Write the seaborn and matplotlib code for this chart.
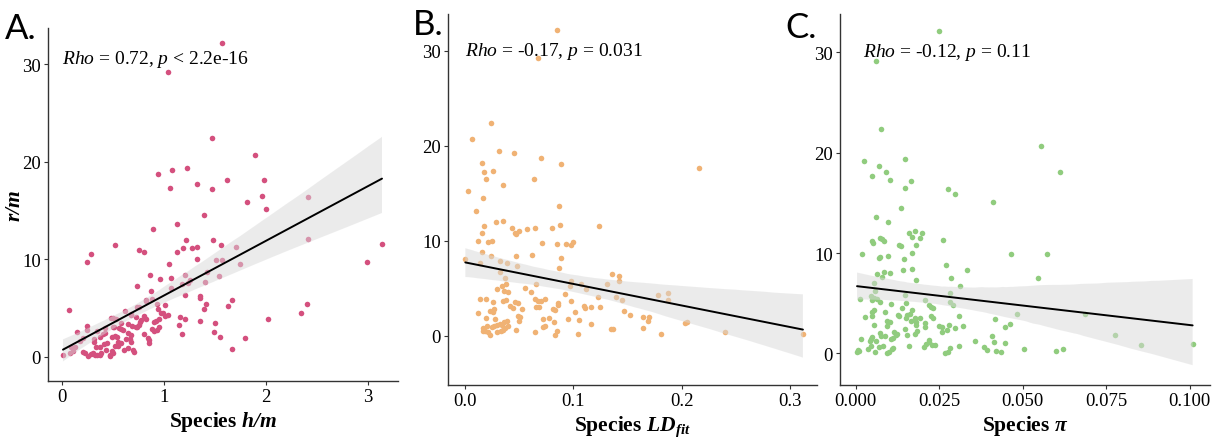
import numpy as np
import pandas as pd
import matplotlib
matplotlib.use("Agg")
import matplotlib.pyplot as plt
import seaborn as sns

# ---------------- data ----------------
# Panel A: Species h/m vs r/m
a_x = [1.575, 1.04, 1.47, 1.89, 0.944, 1.08, 1.23, 1.32, 1.47, 1.62, 1.06, 1.98, 1.96, 1.82, 2.0, 2.41, 1.39,
       1.13, 0.89, 0.52, 1.22, 1.48, 1.56, 1.28, 1.32, 1.19, 1.13, 1.71, 3.14, 2.41, 0.28, 0.25, 0.76, 0.80,
       1.32, 1.51, 1.57, 1.05, 1.75, 2.99, 0.86, 0.96, 1.07, 1.21, 1.54, 1.42, 1.26, 1.40, 1.18, 1.24, 0.74,
       1.07, 0.87, 1.21, 1.35, 1.35, 1.67, 0.82, 1.41, 0.93, 1.01, 1.63, 0.74, 2.40, 0.07, 1.39, 0.99, 1.04,
       2.35, 2.02, 1.16, 1.21, 1.35, 1.15, 1.50, 1.49, 1.18, 1.55, 1.80, 1.67,
       0.01, 0.08, 0.11, 0.13, 0.21, 0.23, 0.26, 0.28, 0.30, 0.32, 0.34, 0.33, 0.37, 0.38, 0.25, 0.21, 0.31,
       0.37, 0.41, 0.44, 0.43, 0.42, 0.42, 0.47, 0.47, 0.50, 0.49, 0.49, 0.52, 0.55, 0.55, 0.58, 0.52, 0.48,
       0.50, 0.50, 0.56, 0.58, 0.60, 0.61, 0.65, 0.63, 0.65, 0.67, 0.68, 0.68, 0.70, 0.71, 0.65, 0.69, 0.73,
       0.74, 0.76, 0.77, 0.78, 0.80, 0.82, 0.80, 0.85, 0.85, 0.84, 0.90, 0.92, 0.95, 0.93, 0.90, 0.88, 0.95,
       0.73, 0.68, 0.76, 0.82, 0.94, 0.97, 1.01, 0.88, 0.62, 0.68, 0.25, 0.34, 0.40, 0.31, 0.37, 0.54, 0.51,
       0.53, 0.58, 0.15, 0.09, 0.18]
a_y = [32.2, 29.2, 22.4, 20.7, 18.7, 19.2, 19.4, 17.7, 17.2, 18.1, 17.3, 18.1, 16.5, 15.9, 15.2, 16.4, 14.5,
       13.6, 13.1, 11.5, 12.0, 12.0, 11.5, 11.2, 11.3, 11.2, 10.8, 11.3, 11.6, 12.1, 10.6, 9.7, 11.0, 10.8,
       10.0, 9.9, 9.9, 9.55, 9.5, 9.7, 8.4, 8.0, 8.1, 8.4, 8.3, 8.7, 7.9, 7.7, 7.5, 7.6, 7.3,
       7.05, 6.75, 6.4, 6.3, 6.0, 5.8, 5.75, 5.45, 5.4, 5.35, 5.2, 5.1, 5.4, 4.8, 4.9, 4.5, 4.35,
       4.5, 3.9, 4.1, 3.9, 3.7, 3.3, 3.5, 2.6, 2.4, 2.0, 1.9, 0.8,
       0.2, 0.4, 0.65, 1.0, 0.55, 0.4, 0.07, 0.3, 0.45, 0.2, 0.25, 1.0, 1.0, 0.45, 2.8, 1.9, 1.85,
       2.0, 1.3, 1.4, 0.75, 2.5, 3.0, 0.25, 0.07, 0.4, 0.65, 2.05, 2.1, 1.5, 1.15, 1.4, 1.15, 4.0,
       4.0, 3.1, 3.0, 2.9, 2.8, 0.7, 0.9, 1.85, 2.5, 1.85, 2.25, 1.5, 0.7, 0.5, 3.4, 3.2, 3.1,
       3.05, 3.3, 3.55, 3.8, 4.25, 3.9, 2.4, 1.45, 1.7, 1.95, 3.6, 3.65, 3.05, 2.8, 2.65, 2.85, 3.9,
       4.1, 4.3, 5.1, 5.8, 4.9, 4.5, 4.15, 5.95, 4.75, 4.45, 3.2, 2.7, 2.4, 1.5, 0.25, 2.0, 3.05,
       3.9, 3.5, 2.55, 1.05, 1.6]

# Panel B: Species LD_fit vs r/m
b_x = [0.085, 0.067, 0.024, 0.0065, 0.031, 0.045, 0.070, 0.016, 0.089, 0.0175, 0.026, 0.216, 0.019, 0.064,
       0.035, 0.003, 0.017, 0.0105, 0.087, 0.029, 0.035, 0.0175, 0.016, 0.043, 0.046, 0.047, 0.050, 0.057,
       0.065, 0.080, 0.088, 0.124, 0.0117, 0.021, 0.025, 0.071, 0.085, 0.093, 0.098, 0.100, 0.016, 0.024,
       0.047, 0.062, 0.089, 0.0003, 0.014, 0.032, 0.039, 0.048, 0.087, 0.037, 0.032, 0.066, 0.055, 0.061,
       0.030, 0.034, 0.038, 0.036, 0.040, 0.035, 0.038, 0.026, 0.019, 0.014, 0.012, 0.023, 0.026, 0.027,
       0.019, 0.028, 0.020, 0.017, 0.0166, 0.0185, 0.021, 0.023, 0.025, 0.027, 0.030, 0.032, 0.034, 0.036,
       0.039, 0.040, 0.037, 0.033, 0.030, 0.035, 0.044, 0.049, 0.049, 0.051, 0.050, 0.047, 0.042, 0.046,
       0.053, 0.065, 0.067, 0.070, 0.066, 0.068, 0.074, 0.065, 0.072, 0.074, 0.072, 0.078, 0.081, 0.083,
       0.082, 0.085, 0.083, 0.086, 0.086, 0.092, 0.095, 0.098, 0.098, 0.097, 0.102, 0.105, 0.104, 0.107,
       0.111, 0.110, 0.112, 0.116, 0.116, 0.123, 0.125, 0.131, 0.136, 0.142, 0.142, 0.139, 0.145, 0.135,
       0.137, 0.147, 0.152, 0.164, 0.164, 0.169, 0.170, 0.178, 0.187, 0.187, 0.181, 0.203, 0.205, 0.240,
       0.312]
b_y = [32.2, 29.2, 22.4, 20.7, 19.4, 19.2, 18.7, 18.2, 18.1, 17.2, 17.3, 17.7, 16.5, 16.5,
       15.9, 15.2, 14.5, 13.1, 13.6, 12.0, 12.1, 11.5, 10.8, 11.3, 10.8, 10.7, 11.0, 11.2,
       11.3, 11.3, 11.6, 11.5, 9.95, 9.9, 9.95, 9.75, 9.7, 9.6, 9.5, 9.85, 8.85, 8.4,
       8.35, 8.5, 8.15, 8.1, 7.6, 7.9, 7.7, 7.3, 7.1, 6.1, 6.7, 5.4, 5.0, 4.55,
       4.9, 5.2, 5.45, 4.7, 4.55, 3.7, 3.75, 3.5, 3.9, 3.85, 2.4, 2.6, 2.45, 2.8,
       1.85, 1.8, 1.05, 0.8, 0.5, 0.45, 0.35, 0.1, 0.95, 1.0, 1.1, 1.25, 1.1, 1.4,
       1.5, 1.05, 0.85, 0.45, 0.35, 0.6, 2.95, 3.4, 2.1, 1.95, 1.5, 0.65, 3.1, 3.5,
       2.8, 3.85, 3.65, 3.6, 3.0, 3.0, 3.85, 0.35, 0.9, 1.0, 1.75, 1.9, 2.8, 2.7,
       1.4, 0.5, 0.1, 3.4, 3.2, 4.4, 1.8, 3.7, 5.8, 5.2, 2.45, 1.7, 0.2, 5.45,
       2.9, 3.15, 4.9, 1.2, 3.05, 4.1, 3.05, 5.45, 6.45, 6.3, 5.75, 4.1, 3.8, 0.75,
       0.7, 2.6, 2.15, 2.0, 0.8, 1.55, 1.95, 4.3, 4.5, 3.8, 0.17, 1.37, 1.44, 0.42,
       0.2]

# Panel C: Species pi vs r/m
c_x = [0.025, 0.006, 0.0076, 0.0555, 0.0024, 0.0149, 0.0071, 0.0091, 0.0611, 0.0049, 0.0102, 0.0165, 0.0147,
       0.0277, 0.0297, 0.0412, 0.0136, 0.0062, 0.0098, 0.005, 0.0052, 0.0074, 0.008, 0.0086, 0.0159, 0.0179,
       0.0168, 0.020, 0.0193, 0.0130, 0.0136, 0.0180, 0.0261, 0.002, 0.0168, 0.0465, 0.0574, 0.0073, 0.007,
       0.0097, 0.0145, 0.0065, 0.0086, 0.0102, 0.0141, 0.017, 0.027, 0.0332, 0.0079, 0.0181, 0.0285, 0.0547,
       0.0055, 0.0312, 0.0059, 0.0013, 0.0047, 0.0054, 0.0063, 0.005, 0.0073, 0.0149, 0.0209, 0.0282, 0.0281,
       0.029, 0.0107, 0.0150, 0.022, 0.0225, 0.023, 0.0139, 0.017, 0.0049, 0.0056, 0.0088, 0.0027, 0.0049,
       0.0128, 0.0131, 0.0153, 0.0162, 0.0152, 0.0166, 0.0093, 0.0103, 0.0056, 0.0181, 0.0178, 0.0193, 0.0227,
       0.023, 0.0208, 0.0207, 0.0093, 0.0182, 0.025, 0.0259, 0.0274, 0.0298, 0.028, 0.0309, 0.0322, 0.0257,
       0.0147, 0.0153, 0.0178, 0.0183, 0.0116, 0.0125, 0.0073, 0.0075, 0.0088, 0.0049, 0.0045, 0.0017, 0.0043,
       0.0060, 0.0106, 0.0113, 0.012, 0.0081, 0.0069, 0.0047, 0.0037, 0.0059, 0.0007, 0.0004, 0.0011, 0.0095,
       0.0101, 0.0108, 0.0113, 0.0159, 0.0204, 0.0212, 0.022, 0.0229, 0.0236, 0.0219, 0.0266, 0.0277, 0.0283,
       0.0309, 0.0358, 0.0383, 0.0393, 0.0408, 0.0413, 0.042, 0.0436, 0.0448, 0.0446, 0.0462, 0.0417, 0.0482,
       0.0503, 0.0601, 0.062, 0.0687, 0.0777, 0.0854, 0.1009]
c_y = [32.15, 29.1, 22.4, 20.7, 19.2, 19.4, 18.7, 18.1, 18.1, 17.7, 17.3, 17.15, 16.5,
       16.4, 15.9, 15.1, 14.5, 13.6, 13.1, 11.2, 11.0, 11.5, 11.4, 11.2, 12.0, 12.2,
       11.6, 12.0, 11.5, 10.8, 10.7, 10.8, 11.3, 9.9, 10.0, 9.9, 9.9, 9.6, 9.55,
       9.7, 9.45, 7.9, 8.1, 8.0, 8.35, 8.45, 8.8, 8.35, 7.65, 7.3, 7.5, 7.5,
       7.05, 6.7, 6.25, 5.4, 5.75, 5.5, 5.4, 5.35, 5.15, 5.8, 5.35, 6.0, 5.15,
       4.8, 4.9, 5.05, 4.85, 4.6, 4.5, 4.5, 4.3, 4.1, 4.35, 4.1, 3.65, 3.75,
       3.85, 3.75, 3.85, 3.9, 3.55, 3.25, 3.2, 3.15, 2.85, 3.15, 3.5, 3.5, 3.75,
       3.55, 3.0, 2.6, 2.75, 2.85, 2.7, 2.65, 2.35, 2.55, 2.85, 3.7, 2.75, 2.1,
       2.45, 1.85, 1.95, 2.25, 2.1, 1.95, 2.0, 1.75, 1.75, 1.65, 1.45, 1.45, 1.2,
       1.2, 1.45, 1.5, 1.85, 0.77, 0.67, 0.77, 0.4, 0.1, 0.37, 0.17, 0.27, 0.03,
       0.17, 0.43, 0.53, 0.73, 0.67, 0.93, 1.17, 0.87, 0.87, 1.33, 0.0, 0.13, 0.53,
       0.77, 1.23, 0.63, 0.3, 1.73, 1.1, 0.27, 0.13, 1.07, 2.6, 2.9, 3.4, 3.93,
       0.4, 0.27, 0.43, 3.87, 1.8, 0.87, 0.97]

panel_letters = ["A.", "B.", "C."]
x_labels = [r"Species $\mathbfit{h/m}$", r"Species $\mathbfit{LD}_{\mathbfit{fit}}$", r"Species $\mathbfit{\pi}$"]
y_label = r"$\mathbfit{r/m}$"
stat_labels = [r"$\mathit{Rho}$ = 0.72, $\mathit{p}$ < 2.2e-16",
               r"$\mathit{Rho}$ = -0.17, $\mathit{p}$ = 0.031",
               r"$\mathit{Rho}$ = -0.12, $\mathit{p}$ = 0.11"]
x_ticks = [[0, 1, 2, 3], [0.0, 0.1, 0.2, 0.3], [0.000, 0.025, 0.050, 0.075, 0.100]]
x_ticklabels = [["0", "1", "2", "3"], ["0.0", "0.1", "0.2", "0.3"],
                ["0.000", "0.025", "0.050", "0.075", "0.100"]]
y_ticks = [0, 10, 20, 30]
colors = ["#D4507E", "#F0B274", "#90CC7E"]

# ---------------- style ----------------
sns.set_theme(style="white")
plt.rcParams["font.family"] = ["Liberation Serif", "DejaVu Serif"]
plt.rcParams["text.color"] = "black"
plt.rcParams["axes.labelcolor"] = "black"
plt.rcParams["mathtext.fontset"] = "custom"
plt.rcParams["mathtext.rm"] = "Liberation Serif"
plt.rcParams["mathtext.it"] = "Liberation Serif:italic"
plt.rcParams["mathtext.bf"] = "Liberation Serif:bold"
plt.rcParams["mathtext.bfit"] = "Liberation Serif:bold:italic"

W, H = 1228, 439
fig = plt.figure(figsize=(W / 100, H / 100), dpi=100)

# axes boxes in pixels: left, right, top, bottom
boxes = [(48, 398, 29, 382), (448, 817, 15, 386), (840, 1210, 15, 386)]
xlims = [(-0.137, 3.297), (-0.0157, 0.325), (-0.0047, 0.1061)]
ylims = [(-2.46, 33.71), (-5.19, 33.86), (-3.16, 33.83)]
stat_pos = [(0.0, 30.6), (0.0, 30.0), (0.0022, 30.1)]
letter_pos = [(5, 39), (413, 35), (785, 38)]

datasets = [(a_x, a_y), (b_x, b_y), (c_x, c_y)]

for i, (xs, ys) in enumerate(datasets):
    l, r, t, b = boxes[i]
    ax = fig.add_axes([l / W, (H - b) / H, (r - l) / W, (b - t) / H])
    df = pd.DataFrame({"x": xs, "y": ys})
    sns.regplot(data=df, x="x", y="y", ax=ax, ci=95, n_boot=1000, seed=1,
                scatter_kws={"s": 16, "color": colors[i], "alpha": 1, "linewidths": 0},
                line_kws={"color": "black", "lw": 1.4})
    # restyle the confidence band (ggplot-like light grey)
    for coll in ax.collections:
        if isinstance(coll, matplotlib.collections.PolyCollection):
            coll.set_alpha(0.5)
            coll.set_facecolor((0.85, 0.85, 0.85))
            coll.set_edgecolor("none")
    ax.set_xlim(*xlims[i])
    ax.set_ylim(*ylims[i])
    ax.set_xticks(x_ticks[i])
    ax.set_xticklabels(x_ticklabels[i])
    ax.set_yticks(y_ticks)
    ax.set_yticklabels([str(v) for v in y_ticks])
    for side in ["top", "right"]:
        ax.spines[side].set_visible(False)
    for side in ["left", "bottom"]:
        ax.spines[side].set_color("#333333")
        ax.spines[side].set_linewidth(1.0)
    ax.tick_params(axis="both", which="both", direction="out", length=3, width=0.8,
                   color="#333333", labelsize=13.5, labelcolor="black", pad=2,
                   left=True, bottom=True)
    ax.set_xlabel(x_labels[i], fontsize=15.5, fontweight="bold", labelpad=3, color="black")
    if i == 0:
        ax.set_ylabel(y_label, fontsize=15.5, labelpad=-2, color="black")
    else:
        ax.set_ylabel("")
    ax.text(stat_pos[i][0], stat_pos[i][1], stat_labels[i], fontsize=14, va="center", ha="left",
            color="black")
    fig.text(letter_pos[i][0] / W, 1 - letter_pos[i][1] / H, panel_letters[i],
             fontsize=25, family="Lato", va="baseline", ha="left", color="black")

fig.savefig("out.png", dpi=100)
